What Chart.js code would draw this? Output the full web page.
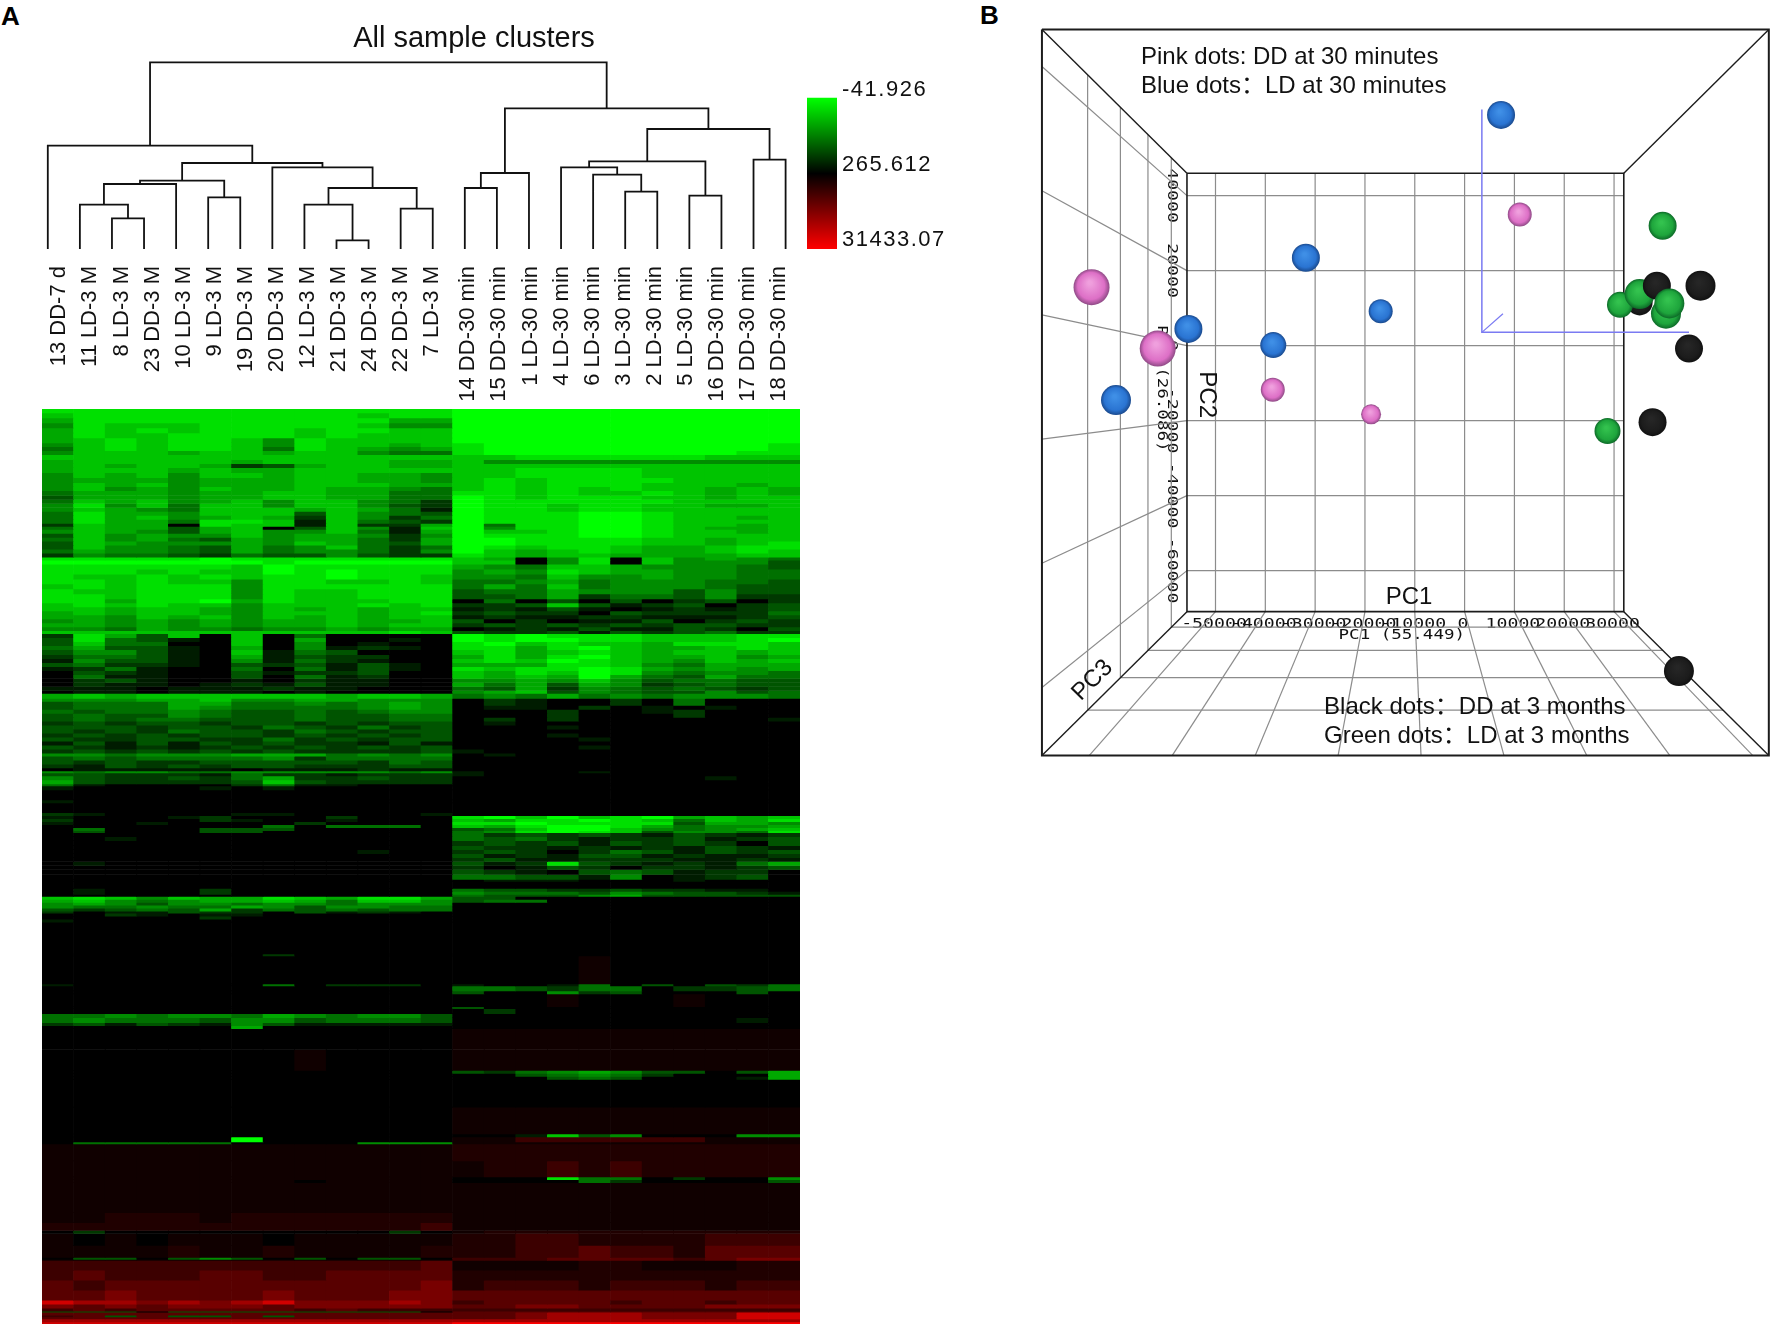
<!DOCTYPE html>
<html><head><meta charset="utf-8">
<script src="https://cdn.jsdelivr.net/npm/chart.js@4"></script>
<style>
html,body{margin:0;padding:0;background:#fff}
#page{position:relative;width:1772px;height:1325px;overflow:hidden;background:#fff}
canvas{position:absolute}
.tag{position:absolute;font:bold 26px "Liberation Sans",sans-serif;color:#000;line-height:26px}
</style></head><body>
<div id="page">
<div class="tag" style="left:1px;top:3px">A</div>
<div class="tag" style="left:980px;top:2px">B</div>
<canvas id="dendro" width="948" height="408" style="left:0;top:0"></canvas>
<canvas id="bar" width="150" height="206" style="left:807px;top:64px"></canvas>
<canvas id="heat" width="758" height="915" style="left:42px;top:409px"></canvas>
<canvas id="pca" width="735" height="734" style="left:1037px;top:25px"></canvas>
</div>
<script>
const sampleLabels=["13 DD-7 d","11 LD-3 M","8 LD-3 M","23 DD-3 M","10 LD-3 M","9 LD-3 M","19 DD-3 M","20 DD-3 M","12 LD-3 M","21 DD-3 M","24 DD-3 M","22 DD-3 M","7 LD-3 M","14 DD-30 min","15 DD-30 min","1 LD-30 min","4 LD-30 min","6 LD-30 min","3 LD-30 min","2 LD-30 min","5 LD-30 min","16 DD-30 min","17 DD-30 min","18 DD-30 min"];
// [left child, right child, height]; numbers are leaves, "nK" is merge K
const dendroMerges=[[2,3,30.7],[1,"n0",44.3],["n1",4,65],[5,6,51.7],["n2","n3",68.3],[9,10,8.7],[8,"n5",44.3],[11,12,40.3],["n6","n7",61],[7,"n8",81.7],["n4","n9",86],[0,"n10",103.3],[13,14,61],["n12",15,76],[18,19,57.3],[17,"n14",74.3],[16,"n15",81.7],[20,21,53.3],["n16","n17",87.7],[22,23,89.3],["n18","n19",120],["n13","n20",140.7],["n11","n21",186.7]];
const colorbarLabels=["-41.926","265.612","31433.07"];
// [genes in band, 13 three-month/7-day columns, 11 thirty-minute columns]; 0 black, 1-9 green, a-h red
const heatRows=[
[4,"8888888888888 99999999999"],[5,"7888888888788 99999999999"],[5,"6888888888866 99999999999"],[5,"5877788888755 99999999999"],[5,"6878788878877 99999999999"],[5,"6877888878777 99999999999"],[5,"6787887587777 99999999999"],[4,"5787887587767 89999999998"],[4,"4787887487656 89999999998"],[4,"5777677677544 89999999988"],
[5,"7777777777777 77888888777"],[4,"6777776777766 75555555555"],[4,"6767762367766 77777777777"],[5,"6777676677777 77888877777"],[5,"5767577677665 77888877777"],[5,"5666566677665 78788887777"],[4,"5767566677766 78788877767"],[4,"5756576676654 78787877676"],[5,"4666566776644 88787787676"],[4,"3666566776644 98788877677"],
[4,"4767567577542 98888887777"],[4,"5857477577532 98878877667"],[4,"5765477767641 98878877777"],[4,"4866577737543 98889987777"],[4,"4867567627524 98889987767"],[4,"4866488717432 98889987777"],[3,"2766087717226 94889987767"],[3,"4766367037517 95889987667"],[4,"5765367557416 97789987767"],[4,"3756557566525 98889987777"],[4,"4756436566426 99888877677"],[4,"3765556576436 99888877678"],[4,"3755436457424 98788766788"],[4,"4655436455425 97678766787"],[4,"2544324335322 87677666677"],
[3,"8888898888888 76058075654"],[4,"9999999899999 77058075553"],[5,"8888887988888 65477655543"],[5,"8887877989888 56587665544"],[5,"8778787889887 55475565544"],[5,"8878775887787 44564555443"],[5,"7878885888888 46474555433"],[5,"8778885877888 34465553533"],[5,"8878885877888 33462443522"],
[4,"8868896877788 04030302302"],[4,"7878775777878 22373123023"],[4,"7767765767677 12131012123"],[4,"6767765777678 23220322224"],[4,"6657675767677 12112211123"],[4,"5656565667667 30201130232"],[4,"6656565667677 23232323322"],[4,"5546554556566 01213113203"],[3,"7777777777787 32231323422"],
[4,"2863707040000 98988877788"],[4,"3843107060010 98998877789"],[4,"3744007050100 89787768887"],[4,"4633106051210 88689766787"],[5,"3553107143000 78678767767"],[4,"2443106132200 68689766756"],[4,"1533105142100 78798765767"],[4,"3422103231310 66688754666"],[4,"1241004041310 87889865656"],[4,"0321003122300 76879854554"],[4,"0411003041200 76769643644"],[4,"0231001021100 55657534433"],[4,"0211012131100 64636523433"],[4,"1110111211000 43625434323"],[3,"0110111010000 56735433534"],
[5,"6767777776776 45464545554"],[3,"5556675566555 02100204000"],
[4,"3444664454565 02100204000"],[4,"3444654444565 01102010100"],[4,"4344543343455 00020012000"],[4,"3433543343344 00020002000"],[4,"3434433343344 02020000001"],[4,"2323323323233 01000000000"],[4,"3332332432423 00010000000"],[4,"3232433243233 00000000000"],[4,"2323233232323 00010000000"],[4,"3223322423233 00001000000"],[4,"1313132322131 00000000000"],[4,"3212123232323 00001000000"],[4,"2323232322223 10000000000"],
[3,"5545556664545 01000000000"],[4,"3434444524444 00000000000"],[4,"3232233333243 00000000000"],[4,"2132323322233 00000000000"],[3,"0111110111211 00000000000"],
[2,"5455445555545 10001000000"],[3,"3322214221222 10000000000"],[4,"5322324622322 00000000100"],[4,"6322223732222 00000000000"],[2,"4100002411000 00000000000"],
[4,"1000010100000 00000000000"],[10,"0000000000000 00000000000"],[3,"1000000000000 00000000000"],[10,"0000000000000 00000000000"],
[3,"2100001100001 00000000000"],[3,"1000120002000 89797896767"],[3,"2000021001000 76889874768"],[3,"1001000020000 88988883665"],[3,"0000000404440 76899864556"],[3,"0400033300000 34799754567"],[2,"0300033000000 45898735548"],
[4,"0000000000000 42323213212"],[4,"0010000000000 43421223123"],[5,"0000000000000 23231323203"],[4,"0000000000000 32212121321"],[4,"0000000000100 23202431323"],[4,"0000000000000 31213312112"],[4,"0000000000000 23112221121"],[4,"0100000000000 31283212146"],[4,"0000000000000 20132022123"],[5,"0000000000000 32103431220"],[5,"0000000000000 44331501230"],
[2,"0000000000000 01110001000"],[7,"0000000000000 00000000000"],[3,"0100020000000 43322322110"],[3,"0100020000000 54443543321"],[2,"0000000000000 43335633333"],
[3,"7875766876886 33000000000"],[3,"6754566764775 34400000000"],[3,"5653554554555 00000000000"],[3,"5445446535544 00000000000"],[3,"3234362434344 00000000000"],[2,"2011322031210 00000000000"],[3,"0021011000000 00000000000"],[3,"0000020000000 00000000000"],[3,"1000000000000 00000000000"],
[32,"0000000000000 00000000000"],[2,"0000000200000 00000000000"],[28,"0000000000000 0000a000000"],
[2,"1000000402220 10014030324"],[5,"0000000000000 44324402234"],[3,"0000000000000 30052300030"],[13,"0000000000000 000a000a000"],[2,"0000000000000 30000000000"],[5,"0000000000000 02000000000"],
[4,"4454554654553 00000000000"],[5,"4544435534443 00000000010"],[3,"2313215311111 00000000000"],[3,"0000006000000 00000000000"],
[21,"0000000000000 aaaaaaaaaaa"],[21,"00000000a0000 aaaaaaaaaaa"],
[3,"0000000000000 32456533036"],[3,"0000000000000 00345420006"],[3,"0000000000000 00034300016"],
[28,"0000000000000 00000000000"],[27,"0000000000000 aaaaaaaaaaa"],
[3,"0000000000000 00173500055"],[5,"0000009000000 aaccccccaaa"],[2,"0444440000555 aaaaaaaaaaa"],
[17,"aaaaaaaaaaaaa bbbbbbbbbbb"],[16,"aaaaaaaaaaaaa abbcbcbbbbb"],
[3,"aaaaaaaaaaaaa 00084402005"],[3,"aaaaaaaa0aaaa 00004200003"],[30,"aaaaaaaaaaaaa aaaaaaaaaaa"],
[10,"aabbbabbbbbbb aaaaaaaaaaa"],[8,"bbbbbbbbbbbbc aaaaaaaaaaa"],[3,"0200000000020 abbbbbbbbbb"],
[12,"a0a0aaa0aaaaa bbccbbbbccc"],[12,"aaaabaabaaaab bbccdccbddd"],[2,"0330353030330 cccddddcdee"],[1,"aaaaaaaaaaaaa cccddddcdee"],
[10,"ccccccccccccd aaaabbaaabb"],[10,"cdcccddccdddd bbbbbbbbbbb"],
[10,"dcdddddddddde bcccbcccbcc"],[10,"ddeddddedddee ddddddddddd"],
[4,"gffefefgeeefe cddddcddcdd"],[4,"ededeeedeeeee ddeeddddeee"],[3,"cdcdddddcdccc ccccccccccc"],[1,"3330333333330 ddddddddddd"],
[3,"ddddddddddddd ddefffeeegg"],[2,"cd3d33d3ddddd ddefffeeegg"],[2,"ddddddddddddd ddefffeeegg"],[3,"fffffffffffff fffffffffff"],[2,"ggggggggggggg hhhhhhhhhhh"]
];
// PCA scores read in PC1 / PC2 units, with the size each sphere appears at
const blueDots=[[7315,61518],[-31858,23429],[-16843,9162],[-55438,4450],[-38402,131],[-69971,-14529]];
const blueSizes=[14,14,12,14,13,15];
const pinkDots=[[11068,34948],[-74880,15576],[-61598,-785],[-38499,-11780],[-18768,-18325]];
const pinkSizes=[12,18,18,12,10];
const greenDots=[[39750,31937],[31184,10864],[35130,13743],[40423,8508],[41097,11257],[28681,-22775]];
const greenSizes=[14,13,15,15,15,13];
const blackDots=[[47353,15969],[38595,15969],[35130,11518],[45043,-785],[37728,-20419],[43022,-86780]];
const blackSizes=[15,14,13,14,14,15];
const pc1Ticks=[-50000,-40000,-30000,-20000,-10000,0,10000,20000,30000];
const pc2Ticks=[40000,20000,0,-20000,-40000,-60000];
const pc3Depths=[0.108,0.269,0.459,0.685];
const wallX=[-55727,31954], wallY=[45942,-70942];

const sans='"Liberation Sans","Noto Sans CJK SC",sans-serif', mono='"DejaVu Sans Mono",monospace';
Chart.defaults.animation=false;
Chart.defaults.events=[];
Chart.defaults.plugins.legend.display=false;
Chart.defaults.plugins.tooltip.enabled=false;

/* ---------- dendrogram and sample labels ---------- */
const nodes=[];
const pos=r=>typeof r==="number"?{x:r,h:0}:nodes[+r.slice(1)];
const dendroSets=dendroMerges.map(([a,b,h])=>{
  const A=pos(a),B=pos(b);
  nodes.push({x:(A.x+B.x)/2,h});
  return {data:[{x:A.x,y:A.h},{x:A.x,y:h},{x:B.x,y:h},{x:B.x,y:B.h}],showLine:true,borderColor:"#111",borderWidth:1.8,pointRadius:0,tension:0,clip:false,xAxisID:"x",yAxisID:"y"};
});
const groupGap=0.185;
new Chart(document.getElementById("dendro"),{type:"scatter",data:{datasets:dendroSets},options:{
  responsive:false,devicePixelRatio:1,
  layout:{autoPadding:false,padding:{left:47.8,right:162.4,top:58,bottom:0}},
  scales:{
    x:{type:"linear",display:false,min:0,max:23},
    y:{type:"linear",display:false,min:0,max:191},
    names:{type:"linear",axis:"x",position:"bottom",min:-0.374,max:23.41,
      grid:{display:false,drawTicks:false},border:{display:false},
      afterBuildTicks:s=>{s.ticks=sampleLabels.map((_,i)=>({value:i+(i>=13?groupGap:0)}));},
      afterFit:s=>{s.height=159;},
      ticks:{autoSkip:false,minRotation:90,maxRotation:90,padding:17,color:"#111",font:{family:sans,size:22},callback:(v,i)=>sampleLabels[i]}}
  }},
  plugins:[{id:"heading",afterDraw:c=>{const g=c.ctx;g.save();g.font=`29px ${sans}`;g.fillStyle="#111";g.textAlign="center";g.textBaseline="middle";g.fillText("All sample clusters",474,39);g.restore();}}]});

/* ---------- colour bar ---------- */
new Chart(document.getElementById("bar"),{type:"bar",
  data:{labels:[""],datasets:[{data:[[16,167]],barPercentage:1,categoryPercentage:1,borderWidth:0,
    backgroundColor:c=>{const y=c.chart.scales.y;if(!y)return "#000";
      const a=y.getPixelForValue(16),b=y.getPixelForValue(167);if(!Number.isFinite(a)||!Number.isFinite(b))return "#000";
      const g=c.chart.ctx.createLinearGradient(0,a,0,b);
      g.addColorStop(0,"#00ff00");g.addColorStop(.5,"#000");g.addColorStop(1,"#ff0000");return g;}}]},
  options:{responsive:false,devicePixelRatio:1,layout:{autoPadding:false,padding:{top:12,bottom:21}},
    scales:{x:{display:false},
      y:{position:"right",reverse:true,min:0,max:167,grid:{display:false,drawTicks:false},border:{display:false},
        afterBuildTicks:s=>{s.ticks=[8,83,158].map(value=>({value}));},
        afterFit:s=>{s.width=120;},
        ticks:{padding:5,color:"#111",font:{family:sans,size:22},callback:(v,i)=>colorbarLabels[i]}}}},
  plugins:[{id:"spacing",beforeDraw:c=>{c.ctx.letterSpacing="1.5px";}}]});

/* ---------- heat map ---------- */
const greenLevels=["#000000","#001c00","#003800","#005400","#007000","#008c00","#00a800","#00c400","#00e000","#00ff00"];
const redLevels={a:"#100000",b:"#200000",c:"#3c0000",d:"#580000",e:"#780000",f:"#a00000",g:"#d00000",h:"#ff0000"};
const levelColour=ch=>redLevels[ch]||greenLevels[+ch]||"#000000";
const heatSets=heatRows.map(([span,txt])=>{
  const cells=txt.replace(" ","").split("");
  return {data:sampleLabels.map(()=>span),backgroundColor:sampleLabels.map((_,i)=>levelColour(cells[i])),borderWidth:0,barPercentage:1,categoryPercentage:1,stack:"genes"};
});
new Chart(document.getElementById("heat"),{type:"bar",data:{labels:sampleLabels,datasets:heatSets},options:{
  responsive:false,devicePixelRatio:1,
  scales:{x:{display:false,stacked:true},y:{display:false,stacked:true,reverse:true,min:0,max:heatRows.reduce((s,r)=>s+r[0],0)}}}});

/* ---------- PCA box ---------- */
const cx=(wallX[0]+wallX[1])/2, cy=(wallY[0]+wallY[1])/2;
const proj=(x,y,t)=>({x:cx+(x-cx)*(1+0.664*t),y:cy+(y-cy)*(1+0.656*t)});
const seg=(pts,color,w)=>({data:pts,showLine:true,borderColor:color,borderWidth:w,pointRadius:0,tension:0,clip:false});
const grey="#8c8c8c", ink="#1c1c1c", axisBlue="#7a7af2";
const wire=[];
pc1Ticks.forEach(v=>{wire.push(seg([proj(v,wallY[0],0),proj(v,wallY[1],0)],grey,1.2));wire.push(seg([proj(v,wallY[1],0),proj(v,wallY[1],1)],grey,1.2));});
pc2Ticks.forEach(v=>{wire.push(seg([proj(wallX[0],v,0),proj(wallX[1],v,0)],grey,1.2));wire.push(seg([proj(wallX[0],v,0),proj(wallX[0],v,1)],grey,1.2));});
pc3Depths.forEach(t=>{
  wire.push(seg([proj(wallX[0],wallY[0],t),proj(wallX[0],wallY[1],t)],grey,1.2));
  wire.push(seg([proj(wallX[0],wallY[1],t),proj(wallX[1],wallY[1],t)],grey,1.2));
});
const box=[seg([proj(wallX[0],wallY[0],0),proj(wallX[1],wallY[0],0),proj(wallX[1],wallY[1],0),proj(wallX[0],wallY[1],0),proj(wallX[0],wallY[0],0)],ink,1.6),
  seg([proj(wallX[0],wallY[0],1),proj(wallX[1],wallY[0],1),proj(wallX[1],wallY[1],1),proj(wallX[0],wallY[1],1),proj(wallX[0],wallY[0],1)],ink,2)];
[[0,0],[1,0],[1,1],[0,1]].forEach(([i,j])=>box.push(seg([proj(wallX[i],wallY[j],0),proj(wallX[i],wallY[j],1)],ink,1.4)));
const axes3d=[seg([{x:3465,y:62958},{x:3465,y:3534},{x:45043,y:3534}],axisBlue,1.5),seg([{x:3465,y:3534},{x:7700,y:8508}],axisBlue,1.2)];
const sphere=(pts,sizes,hi,mid,lo)=>({data:pts.map(([x,y])=>({x,y})),pointRadius:sizes,pointBorderWidth:0,clip:false,
  pointBackgroundColor:c=>{
    if(!c.parsed||!c.chart.scales.x)return mid;
    const px=c.chart.scales.x.getPixelForValue(c.parsed.x),py=c.chart.scales.y.getPixelForValue(c.parsed.y),r=sizes[c.dataIndex];
    if(!Number.isFinite(px)||!Number.isFinite(py)||!r)return mid;
    const g=c.chart.ctx.createRadialGradient(px-r*.1,py-r*.25,r*.1,px,py,r);
    g.addColorStop(0,hi);g.addColorStop(.72,mid);g.addColorStop(1,lo);return g;}});
const dotSets=[
  sphere(pinkDots,pinkSizes,"#ef9fdd","#dd6fc6","#8f4a86"),
  sphere(blueDots,blueSizes,"#3f8fe6","#2a74d2","#1a4a8e"),
  sphere(greenDots.slice(3),greenSizes.slice(3),"#33c24e","#1ea53c","#0d6a28"),
  sphere(blackDots.slice(1,2),blackSizes.slice(1,2),"#262626","#1c1c1c","#111"),
  sphere(greenDots.slice(0,3),greenSizes.slice(0,3),"#33c24e","#1ea53c","#0d6a28"),
  sphere(blackDots.slice(0,1).concat(blackDots.slice(2)),blackSizes.slice(0,1).concat(blackSizes.slice(2)),"#262626","#1c1c1c","#111")
];
const under=[
  {t:"PC1 (55.449)",x:-12608,y:-77225,f:`14px ${mono}`,sx:1.25},
  {t:"PC3 (26.086)",x:-60900,y:-11387,f:`14px ${mono}`,r:90,sx:1.25}
];
const notes=[
  {t:"Pink dots: DD at 30 minutes",x:-64966,y:76832,f:`24px ${sans}`,a:"left"},
  {t:"Blue dots：LD at 30 minutes",x:-64966,y:69110,f:`24px ${sans}`,a:"left"},
  {t:"Black dots：DD at 3 months",x:-28200,y:-96597,f:`24px ${sans}`,a:"left"},
  {t:"Green dots：LD at 3 months",x:-28200,y:-104319,f:`24px ${sans}`,a:"left"},
  {t:"PC1",x:-11164,y:-67016,f:`24px ${sans}`},
  {t:"PC2",x:-51780,y:-13089,f:`24px ${sans}`,r:90},
  {t:"PC3",x:-74687,y:-89267,f:`24px ${sans}`,r:-45}
];
const put=(c,n)=>{const X=c.scales.x.getPixelForValue(n.x),Y=c.scales.y.getPixelForValue(n.y),g=c.ctx;
  g.save();g.translate(X,Y);if(n.r)g.rotate(n.r*Math.PI/180);if(n.sx)g.scale(n.sx,1);g.font=n.f;g.fillStyle=n.c||"#111";g.textAlign=n.a||"center";g.textBaseline="middle";g.fillText(n.t,0,0);g.restore();};
new Chart(document.getElementById("pca"),{type:"scatter",data:{datasets:[...dotSets,...axes3d,...box,...wire]},options:{
  responsive:false,devicePixelRatio:1,layout:{autoPadding:false,padding:{left:4,top:4,right:1,bottom:4}},
  scales:{x:{type:"linear",display:false,min:-85026,max:61502},y:{type:"linear",display:false,min:-109173,max:84427}}},
  plugins:[{id:"wallText",
    beforeDatasetsDraw:c=>{
      pc1Ticks.forEach(v=>put(c,{t:String(v),x:v-300,y:-74215,f:`14px ${mono}`,sx:1.3}));
      pc2Ticks.forEach(v=>put(c,{t:String(v),x:-58710,y:v,f:`14px ${mono}`,r:90,sx:1.3}));
      under.forEach(n=>put(c,n));
    },
    afterDatasetsDraw:c=>notes.forEach(n=>put(c,n))}]});
</script>
</body></html>
